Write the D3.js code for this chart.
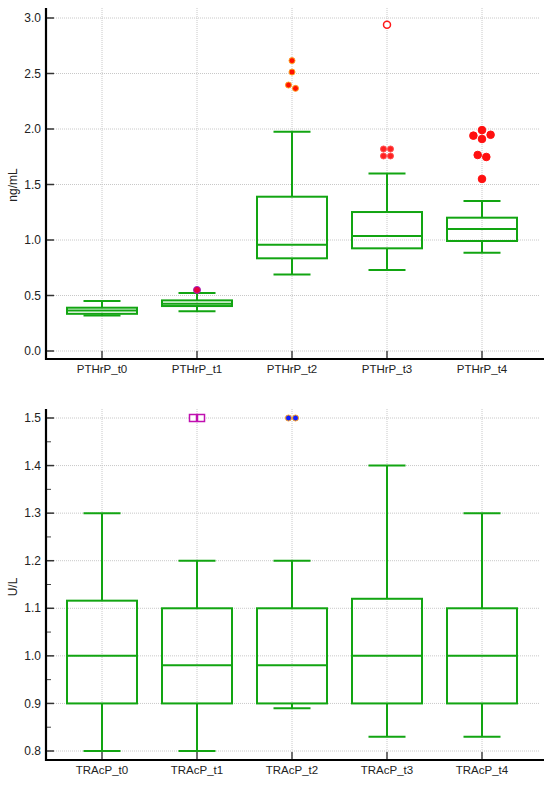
<!DOCTYPE html>
<html lang="en">
<head>
  <meta charset="UTF-8">
  <title>PTHrP / TRAcP box plots</title>
  <style>
    body { margin: 0; background: #fff; }
    svg text { font-family: "Liberation Sans", Arial, sans-serif; fill: #222; }
  </style>
</head>
<body>
  <svg id="chart" width="550" height="785"></svg>
  <script src="https://d3js.org/d3.v7.min.js"></script>
  <script>

    // ---- data ----
    var pthCats = ["PTHrP_t0", "PTHrP_t1", "PTHrP_t2", "PTHrP_t3", "PTHrP_t4"];
    // [low whisker, Q1, median, Q3, high whisker]
    var pthBoxes = [
      [0.32, 0.335, 0.365, 0.39, 0.45],
      [0.357, 0.405, 0.426, 0.456, 0.523],
      [0.69, 0.835, 0.958, 1.39, 1.976],
      [0.73, 0.925, 1.036, 1.252, 1.598],
      [0.886, 0.991, 1.099, 1.201, 1.351]
    ];
    var pthOutliers = [
      [],
      [0.55],
      [2.616, 2.513, 2.396, 2.366],
      [1.82, 1.82, 1.757, 1.757],
      [1.99, 1.948, 1.94, 1.91, 1.766, 1.748, 1.55]
    ];
    var pthFarOut = [[], [], [], [2.94], []];
    var pthTicks = [0, 0.5, 1, 1.5, 2, 2.5, 3];

    var tracCats = ["TRAcP_t0", "TRAcP_t1", "TRAcP_t2", "TRAcP_t3", "TRAcP_t4"];
    var tracBoxes = [
      [0.8, 0.9, 1.0, 1.116, 1.3],
      [0.8, 0.9, 0.98, 1.1, 1.2],
      [0.89, 0.9, 0.98, 1.1, 1.2],
      [0.83, 0.9, 1.0, 1.12, 1.4],
      [0.83, 0.9, 1.0, 1.1, 1.3]
    ];
    var tracOutliers = [[], [1.5, 1.5], [1.5, 1.5], [], []];
    var tracFarOut = [[], [], [], [], []];
    var tracTicks = [0.8, 0.9, 1.0, 1.1, 1.2, 1.3, 1.4, 1.5];
    var tracMinor = [0.85, 0.95, 1.05, 1.15, 1.25, 1.35, 1.45];

    // marker style per category (as in the original software output)
    var pthMarks = [
      null,
      {shape: "circle", r: 3.5, fill: "#e8003c", stroke: "#a020c0"},
      {shape: "circle", r: 3, fill: "#ff1000", stroke: "#ffa020"},
      {shape: "circle", r: 3, fill: "#ff2020", stroke: "#ff5050"},
      {shape: "circle", r: 3.8, fill: "#ff1010", stroke: "#ff1010"}
    ];
    var tracMarks = [
      null,
      {shape: "square", r: 3.5, fill: "#fff", stroke: "#c010b0"},
      {shape: "circle", r: 3, fill: "#1020ff", stroke: "#ffa020"},
      null, null
    ];

    var green = "#12a512";
    var svg = d3.select("#chart");

    // simple beeswarm: spread colliding points sideways, then centre each cluster
    function jitter(vals, y, r) {
      var pts = vals.map(function(v) { return {v: v, y: y(v), dx: 0}; });
      pts.sort(function(a, b) { return a.y - b.y; });
      var d = 2 * r + 1, groups = [], cur = [];
      pts.forEach(function(p, i) {
        if (i > 0 && p.y - pts[i - 1].y >= d) { groups.push(cur); cur = []; }
        cur.push(p);
      });
      if (cur.length) groups.push(cur);
      groups.forEach(function(g) {
        var placed = [];
        g.forEach(function(p) {
          var cands = [0, d, -d, 2 * d, -2 * d];
          for (var k = 0; k < cands.length; k++) {
            var ok = placed.every(function(q) {
              var ddx = q.dx - cands[k], ddy = q.y - p.y;
              return Math.sqrt(ddx * ddx + ddy * ddy) >= 2 * r;
            });
            if (ok) { p.dx = cands[k]; break; }
          }
          placed.push(p);
        });
        var lo = d3.min(g, function(p) { return p.dx; }), hi = d3.max(g, function(p) { return p.dx; });
        g.forEach(function(p) { p.dx -= (lo + hi) / 2; });
      });
      return pts;
    }

    function panel(opt) {
      var g = svg.append("g");
      var x = d3.scalePoint().domain(opt.cats).range([102, 482]);
      var y = d3.scaleLinear().domain(opt.domain).range(opt.yRange);
      var left = 46, right = 540;

      // grid
      g.append("g").selectAll("line.h").data(opt.ticks).enter().append("line")
        .attr("x1", left).attr("x2", right)
        .attr("y1", function(d) { return y(d); }).attr("y2", function(d) { return y(d); })
        .attr("stroke", "#c8c8c8").attr("stroke-width", 1).attr("stroke-dasharray", "1,1");
      g.append("g").selectAll("line.v").data(opt.cats).enter().append("line")
        .attr("x1", function(d) { return x(d); }).attr("x2", function(d) { return x(d); })
        .attr("y1", opt.axisTop).attr("y2", opt.axisBottom)
        .attr("stroke", "#c8c8c8").attr("stroke-width", 1).attr("stroke-dasharray", "1,1");

      // boxes
      var hw = 35, cw = 18.5;
      var bx = g.append("g").selectAll("g").data(opt.boxes).enter().append("g")
        .attr("transform", function(d, i) { return "translate(" + x(opt.cats[i]) + ",0)"; })
        .attr("stroke", green).attr("stroke-width", 2).attr("fill", "none");
      bx.append("line").attr("x1", 0).attr("x2", 0)
        .attr("y1", function(d) { return y(d[3]); }).attr("y2", function(d) { return y(d[4]); });
      bx.append("line").attr("x1", 0).attr("x2", 0)
        .attr("y1", function(d) { return y(d[1]); }).attr("y2", function(d) { return y(d[0]); });
      bx.append("line").attr("x1", -cw).attr("x2", cw)
        .attr("y1", function(d) { return y(d[4]); }).attr("y2", function(d) { return y(d[4]); });
      bx.append("line").attr("x1", -cw).attr("x2", cw)
        .attr("y1", function(d) { return y(d[0]); }).attr("y2", function(d) { return y(d[0]); });
      bx.append("rect").attr("x", -hw).attr("width", 2 * hw)
        .attr("y", function(d) { return y(d[3]); })
        .attr("height", function(d) { return y(d[1]) - y(d[3]); });
      bx.append("line").attr("x1", -hw).attr("x2", hw)
        .attr("y1", function(d) { return y(d[2]); }).attr("y2", function(d) { return y(d[2]); });

      // outliers
      opt.outliers.forEach(function(vals, i) {
        var m = opt.marks[i];
        if (!m || !vals.length) return;
        var pts = jitter(vals, y, m.r);
        var cx = x(opt.cats[i]);
        if (m.shape === "square") {
          g.append("g").selectAll("rect").data(pts).enter().append("rect")
            .attr("x", function(p) { return cx + p.dx - m.r; })
            .attr("y", function(p) { return p.y - m.r; })
            .attr("width", 2 * m.r).attr("height", 2 * m.r)
            .attr("fill", m.fill).attr("stroke", m.stroke).attr("stroke-width", 1.5);
        } else {
          g.append("g").selectAll("circle").data(pts).enter().append("circle")
            .attr("cx", function(p) { return cx + p.dx; })
            .attr("cy", function(p) { return p.y; })
            .attr("r", m.r)
            .attr("fill", m.fill).attr("stroke", m.stroke).attr("stroke-width", 1);
        }
      });
      opt.farOut.forEach(function(vals, i) {
        g.append("g").selectAll("circle").data(vals).enter().append("circle")
          .attr("cx", x(opt.cats[i])).attr("cy", function(d) { return y(d); })
          .attr("r", 3.5).attr("fill", "#fff").attr("stroke", "#ff1a1a").attr("stroke-width", 1.5);
      });

      // y axis (ticks point inward)
      var ya = g.append("g").attr("transform", "translate(" + left + ",0)");
      ya.selectAll("line.t").data(opt.ticks).enter().append("line")
        .attr("x1", 0).attr("x2", 8)
        .attr("y1", function(d) { return y(d); }).attr("y2", function(d) { return y(d); })
        .attr("stroke", "#333").attr("stroke-width", 1.5);
      ya.selectAll("line.m").data(opt.minor || []).enter().append("line")
        .attr("x1", 0).attr("x2", 5)
        .attr("y1", function(d) { return y(d); }).attr("y2", function(d) { return y(d); })
        .attr("stroke", "#444").attr("stroke-width", 1);
      ya.selectAll("text").data(opt.ticks).enter().append("text")
        .attr("x", -5).attr("y", function(d) { return y(d); }).attr("dy", "0.35em")
        .attr("text-anchor", "end").style("font-size", "12px")
        .text(d3.format(".1f"));
      ya.append("line").attr("x1", 0).attr("x2", 0)
        .attr("y1", opt.axisTop).attr("y2", opt.axisBottom + 1)
        .attr("stroke", "#000").attr("stroke-width", 2.2);

      // x axis
      var xa = g.append("g");
      xa.selectAll("line").data(opt.cats).enter().append("line")
        .attr("x1", function(d) { return x(d); }).attr("x2", function(d) { return x(d); })
        .attr("y1", opt.axisBottom).attr("y2", opt.axisBottom - 8)
        .attr("stroke", "#444").attr("stroke-width", 1.5);
      xa.append("line").attr("x1", left - 1).attr("x2", right + 4)
        .attr("y1", opt.axisBottom).attr("y2", opt.axisBottom)
        .attr("stroke", "#000").attr("stroke-width", 2.2);
      xa.selectAll("text").data(opt.cats).enter().append("text")
        .attr("x", function(d) { return x(d); }).attr("y", opt.axisBottom + 14)
        .attr("text-anchor", "middle").style("font-size", "11.5px")
        .text(function(d) { return d; });

      g.append("text")
        .attr("transform", "translate(17," + opt.labelY + ") rotate(-90)")
        .attr("text-anchor", "middle").style("font-size", "12px")
        .text(opt.label);
    }

    panel({
      cats: pthCats, boxes: pthBoxes, outliers: pthOutliers, farOut: pthFarOut,
      marks: pthMarks, ticks: pthTicks, domain: [0, 3], yRange: [351, 18],
      axisTop: 8, axisBottom: 359, label: "ng/mL", labelY: 185
    });
    panel({
      cats: tracCats, boxes: tracBoxes, outliers: tracOutliers, farOut: tracFarOut,
      marks: tracMarks, ticks: tracTicks, minor: tracMinor, domain: [0.8, 1.5], yRange: [751, 418],
      axisTop: 409, axisBottom: 760, label: "U/L", labelY: 587
    });
  </script>
</body>
</html>
